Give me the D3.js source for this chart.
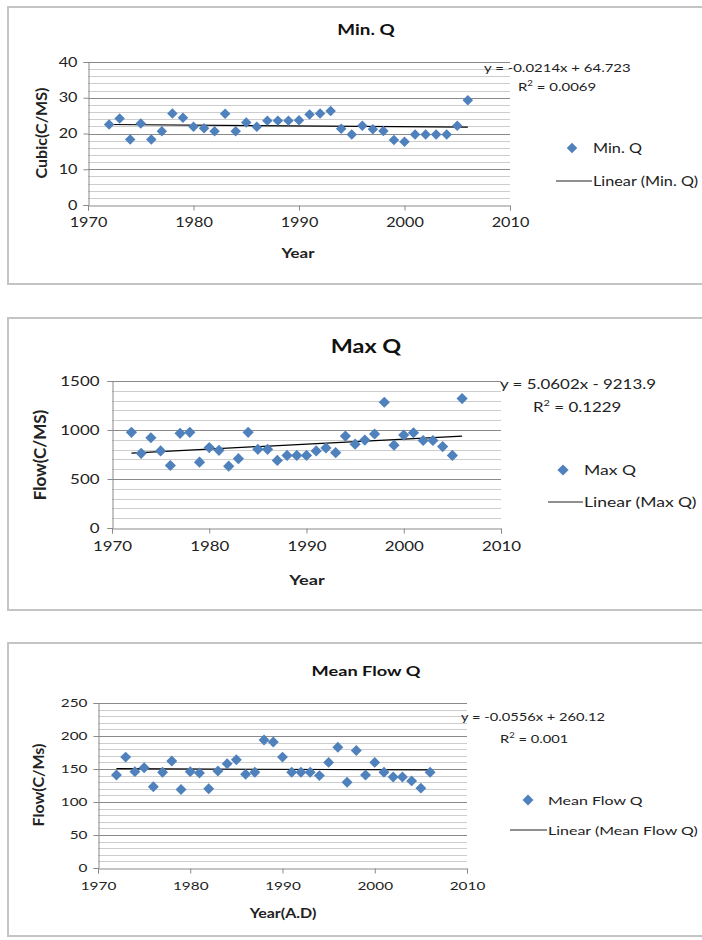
<!DOCTYPE html>
<html><head><meta charset="utf-8">
<script src="https://cdn.jsdelivr.net/npm/d3@7"></script>
<style>
body{margin:0;background:#fff;}
svg{display:block;font-family:Lato,"Open Sans",sans-serif;}
</style></head>
<body><svg id="c" width="702" height="940"></svg>
<script>
const years = [1972,1973,1974,1975,1976,1977,1978,1979,1980,1981,1982,1983,1984,1985,1986,1987,1988,1989,1990,1991,1992,1993,1994,1995,1996,1997,1998,1999,2000,2001,2002,2003,2004,2005,2006];
const minQ = [22.5,24.2,18.3,22.8,18.3,20.6,25.6,24.4,21.9,21.5,20.6,25.5,20.6,23.1,21.9,23.6,23.6,23.6,23.7,25.3,25.6,26.3,21.3,19.7,22.2,21.2,20.7,18.2,17.7,19.7,19.7,19.7,19.7,22.2,29.3];
const maxQ = [976,762,921,786,638,966,976,672,821,793,631,707,976,803,803,690,741,741,741,786,817,769,938,855,897,959,1283,845,948,972,893,893,831,741,1321];
const meanQ = [141,168,146,152,123,145,162,119,146,144,120,147,158,164,142,145,194,191,168,145,145,145,140,160,183,130,178,141,160,145,138,138,132,121,145];
const xTicks = [1970,1980,1990,2000,2010];
const minTicks = [0,10,20,30,40];
const maxTicks = [0,500,1000,1500];
const meanTicks = [0,50,100,150,200,250];
const titles = ["Min. Q","Max Q","Mean Flow Q"];
const yLabels = ["Cubic(C/MS)","Flow(C/MS)","Flow(C/Ms)"];
const xLabels = ["Year","Year","Year(A.D)"];
const legendNames = ["Min. Q","Max Q","Mean Flow Q"];
const trend = [{m:-0.0214,b:64.723,eq:"y = -0.0214x + 64.723",r2:"0.0069"},
               {m:5.0602,b:-9213.9,eq:"y = 5.0602x - 9213.9",r2:"0.1229"},
               {m:-0.0556,b:260.12,eq:"y = -0.0556x + 260.12",r2:"0.001"}];

const svg = d3.select("#c");
const blue = "#4F81BD";
const SX = 1.3; // horizontal stretch of glyphs seen in the reference

function txt(g,x,y,s,fs,opt={}){
  const t = g.append("text").attr("transform",`translate(${x},${y}) scale(${SX},1)`)
    .attr("font-size",fs).attr("fill",opt.fill||"#222").attr("text-anchor",opt.anchor||"start");
  if(opt.bold) t.attr("font-weight","bold");
  if(s!==null) t.text(s);
  return t;
}

function drawChart(o){
  const g = svg.append("g");
  g.append("rect").attr("x",o.box[0]).attr("y",o.box[1]).attr("width",o.box[2]).attr("height",o.box[3])
    .attr("fill","#fff").attr("stroke","#c4c4c4").attr("stroke-width",2);
  const top = o.yTicks[o.yTicks.length-1];
  const x = d3.scaleLinear().domain([1970,2010]).range([o.L,o.R]);
  const y = d3.scaleLinear().domain([0,top]).range([o.B,o.T]);
  const minor = d3.range(o.minor, top+1e-9, o.minor).filter(v=>!o.yTicks.includes(v));
  g.append("g").selectAll("line").data(minor).join("line")
    .attr("x1",o.L).attr("x2",o.R).attr("y1",d=>Math.round(y(d))+0.5).attr("y2",d=>Math.round(y(d))+0.5)
    .attr("stroke","#cdcdcd").attr("stroke-width",1);
  g.append("g").selectAll("line").data(o.yTicks.filter(v=>v>0)).join("line")
    .attr("x1",o.L).attr("x2",o.R).attr("y1",d=>Math.round(y(d))+0.5).attr("y2",d=>Math.round(y(d))+0.5)
    .attr("stroke","#8a8a8a").attr("stroke-width",1);
  const xa = g.append("g").attr("transform",`translate(0,${Math.round(y(0))+0.5})`)
    .call(d3.axisBottom(x).tickValues(xTicks).tickFormat(d3.format("d")).tickSize(5).tickPadding(o.xpad));
  const ya = g.append("g").attr("transform",`translate(${Math.round(o.L)+0.5},0)`)
    .call(d3.axisLeft(y).tickValues(o.yTicks).tickFormat(d3.format("d")).tickSize(5).tickPadding(o.ypad));
  [xa,ya].forEach(a=>{
    a.select(".domain").attr("stroke","#8a8a8a");
    a.selectAll(".tick line").attr("stroke","#8a8a8a");
    a.selectAll("text").attr("font-size",o.tickFs).attr("fill","#222").attr("font-family","Lato,sans-serif");
  });
  xa.selectAll("text").attr("transform",`scale(${SX},1)`);
  ya.selectAll("text").attr("x",0).attr("transform",`translate(${-(5+o.ypad)},0) scale(${SX},1)`);
  // trend line
  const t = o.trend;
  const y0 = years[0], y1 = years[years.length-1];
  g.append("line").attr("x1",x(y0)).attr("x2",x(y1)).attr("y1",y(t.m*y0+t.b)).attr("y2",y(t.m*y1+t.b))
    .attr("stroke","#000").attr("stroke-width",1.2);
  // points
  const sym = d3.symbol().type(d3.symbolDiamond2).size(o.ms);
  g.append("g").selectAll("path").data(years.map((yr,i)=>[yr,o.vals[i]])).join("path")
    .attr("d",sym).attr("transform",d=>`translate(${x(d[0])},${y(d[1])})`).attr("fill",blue);
  // titles
  txt(g,o.titleX,o.titleY,o.title,o.titleFs,{bold:true,anchor:"middle",fill:"#111"});
  txt(g,o.xlX,o.xlY,o.xlab,o.labFs,{bold:true,anchor:"middle"});
  g.append("text").attr("transform",`translate(${o.ylX},${o.ylY}) rotate(-90)`).attr("text-anchor","middle")
    .attr("font-weight","bold").attr("font-size",o.ylFs).attr("fill","#222").text(o.ylab);
  // equation
  txt(g,o.eqX,o.eqY,t.eq,o.eqFs);
  const r = txt(g,o.r2X,o.r2Y,null,o.eqFs);
  r.append("tspan").text("R");
  r.append("tspan").attr("font-size",o.eqFs*0.65).attr("dy",-o.eqFs*0.45).text("2");
  r.append("tspan").attr("dy",o.eqFs*0.45).text(" = "+t.r2);
  // legend
  g.append("path").attr("d",d3.symbol().type(d3.symbolDiamond2).size(o.ms)())
    .attr("transform",`translate(${o.legX},${o.legY})`).attr("fill",blue);
  txt(g,o.legTX,o.legY+5,o.legName,o.legFs);
  g.append("line").attr("x1",o.legLX1).attr("x2",o.legTX-1).attr("y1",o.legY2).attr("y2",o.legY2)
    .attr("stroke","#222").attr("stroke-width",1.2);
  txt(g,o.legTX,o.legY2+5,"Linear ("+o.legName+")",o.legFs);
}

drawChart({box:[8,7,700,277],L:88,R:510,T:62,B:205,yTicks:minTicks,minor:2,vals:minQ,trend:trend[0],
  title:titles[0],titleX:366,titleY:35,titleFs:14.5,xlab:xLabels[0],xlX:298,xlY:258,ylab:yLabels[0],ylX:47,ylY:133,ylFs:16,
  labFs:13,tickFs:12.5,xpad:8,ypad:6,ms:70,eqX:484,eqY:72,r2X:518,r2Y:91,eqFs:11.5,
  legX:572,legY:148,legTX:593,legLX1:556,legY2:181,legFs:12.5,legName:legendNames[0]});

drawChart({box:[8,318,700,292],L:112,R:501,T:381,B:528,yTicks:maxTicks,minor:100,vals:maxQ,trend:trend[1],
  title:titles[1],titleX:366,titleY:353,titleFs:18,xlab:xLabels[1],xlX:307,xlY:585,ylab:yLabels[1],ylX:46,ylY:455,ylFs:17,
  labFs:14,tickFs:13,xpad:8,ypad:8,ms:80,eqX:500,eqY:389,r2X:533,r2Y:412,eqFs:13,
  legX:563,legY:470,legTX:584,legLX1:548,legY2:502,legFs:13.5,legName:legendNames[1]});

drawChart({box:[8,643,700,293],L:98,R:467,T:703,B:868,yTicks:meanTicks,minor:10,vals:meanQ,trend:trend[2],
  title:titles[2],titleX:366,titleY:676,titleFs:14,xlab:xLabels[2],xlX:283,xlY:918,ylab:yLabels[2],ylX:44,ylY:785,ylFs:16,
  labFs:12.3,tickFs:11.8,xpad:8,ypad:6,ms:76,eqX:461,eqY:721,r2X:500,r2Y:743,eqFs:11.3,
  legX:528,legY:800,legTX:548,legLX1:510,legY2:830,legFs:12.3,legName:legendNames[2]});
</script></body></html>
